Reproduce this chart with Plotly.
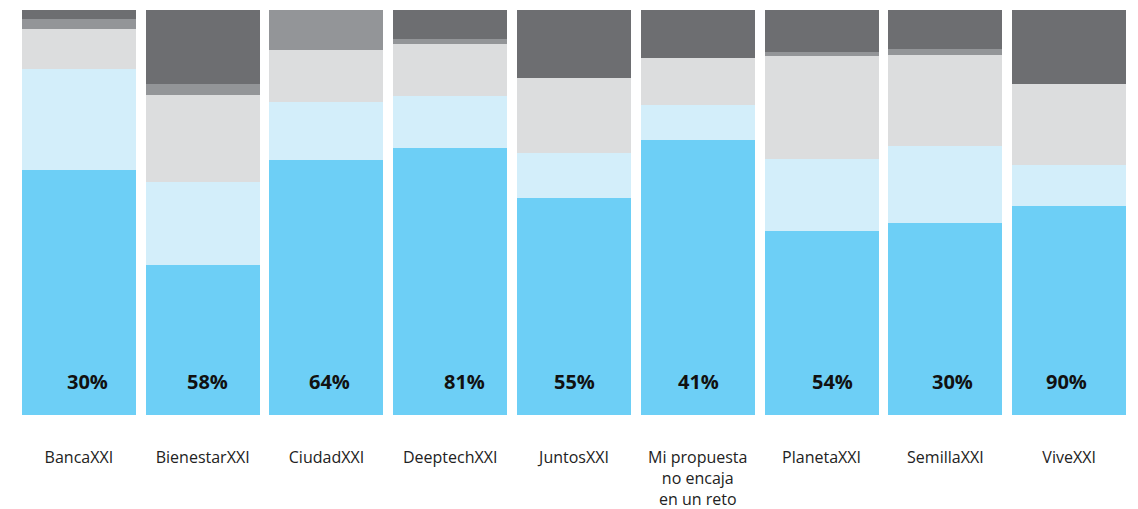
import plotly.graph_objects as go

categories = ["BancaXXI", "BienestarXXI", "CiudadXXI", "DeeptechXXI", "JuntosXXI",
              "Mi propuesta<br>no encaja<br>en un reto", "PlanetaXXI", "SemillaXXI", "ViveXXI"]

# stacked shares, bottom to top
seg_blue = [60.5, 37.0, 63.0, 65.9, 53.6, 67.9, 45.4, 47.4, 51.6]
seg_paleblue = [24.9, 20.5, 14.3, 12.8, 11.1, 8.6, 17.8, 19.2, 10.1]
seg_lightgray = [9.8, 21.6, 12.8, 12.8, 18.6, 11.7, 25.4, 22.3, 20.1]
seg_midgray = [2.5, 2.6, 9.9, 1.2, 0.0, 0.0, 1.1, 1.6, 0.0]
seg_darkgray = [2.2, 18.3, 0.0, 7.2, 16.7, 11.8, 10.3, 9.6, 18.2]

pct_labels = ["30%", "58%", "64%", "81%", "55%", "41%", "54%", "30%", "90%"]
label_shift = [9, 5, 3, 14, 0, 1, 11, 7, -3]

series = [
    ("s1", seg_blue, "#6DCFF6"),
    ("s2", seg_paleblue, "#D3EEFA"),
    ("s3", seg_lightgray, "#DCDDDE"),
    ("s4", seg_midgray, "#939598"),
    ("s5", seg_darkgray, "#6D6E71"),
]

fig = go.Figure()
for name, vals, col in series:
    fig.add_trace(go.Bar(x=categories, y=vals, name=name, marker_color=col,
                         marker_line_width=0, showlegend=False))

for cat, lab, sh in zip(categories, pct_labels, label_shift):
    fig.add_annotation(x=cat, y=0, xref="x", yref="y", text="<b>" + lab + "</b>",
                       showarrow=False, yanchor="middle", yshift=34, xshift=sh,
                       font=dict(family="Open Sans", size=20, color="#111111"))

fig.update_layout(
    barmode="stack", barnorm="percent", bargap=0.079,
    width=1130, height=501,
    margin=dict(l=9, r=7, t=2, b=94, autoexpand=False),
    paper_bgcolor="white", plot_bgcolor="white",
    font=dict(family="Open Sans", size=16, color="#222222"),
)
fig.update_xaxes(range=[-0.5, 8.5], showgrid=False, zeroline=False, showline=False,
                 automargin=False,
                 ticks="outside", ticklen=28, tickcolor="rgba(0,0,0,0)",
                 tickfont=dict(family="Open Sans", size=16, color="#222222"))
fig.update_yaxes(range=[0, 100], visible=False, automargin=False)

fig.write_html("out.html")
